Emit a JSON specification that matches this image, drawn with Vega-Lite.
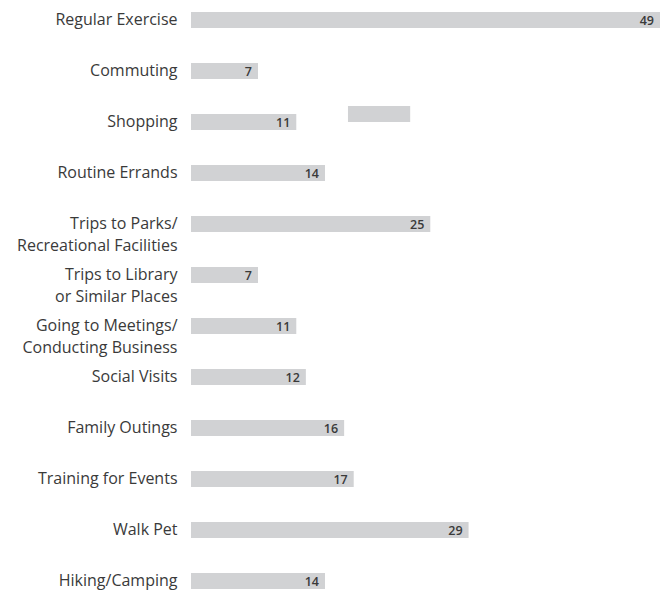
{
  "$schema": "https://vega.github.io/schema/vega-lite/v6.json",
  "autosize": {"type": "none"},
  "width": 469,
  "height": 601,
  "padding": {"left": 191, "top": 0, "right": 4, "bottom": 0},
  "background": "white",
  "config": {"view": {"stroke": null}},
  "datasets": {
    "main": [
      {"activity": "Regular Exercise", "value": 49},
      {"activity": "Commuting", "value": 7},
      {"activity": "Shopping", "value": 11},
      {"activity": "Routine Errands", "value": 14},
      {"activity": "Trips to Parks/|Recreational Facilities", "value": 25},
      {"activity": "Trips to Library|or Similar Places", "value": 7},
      {"activity": "Going to Meetings/|Conducting Business", "value": 11},
      {"activity": "Social Visits", "value": 12},
      {"activity": "Family Outings", "value": 16},
      {"activity": "Training for Events", "value": 17},
      {"activity": "Walk Pet", "value": 29},
      {"activity": "Hiking/Camping", "value": 14}
    ],
    "extra": [
      {"activity": "Shopping", "start": 16.4, "end": 22.9}
    ]
  },
  "layer": [
    {
      "data": {"name": "main"},
      "mark": {"type": "bar", "color": "#d1d2d4"},
      "encoding": {
        "y": {
          "field": "activity", "type": "nominal", "sort": null,
          "scale": {"paddingInner": 0.686, "paddingOuter": 0.235},
          "axis": {
            "title": null, "domain": false, "ticks": false,
            "labelPadding": 14, "labelFont": "Open Sans", "labelFontSize": 16,
            "labelFontWeight": 500,
            "labelColor": "#3a3a3a", "labelLineHeight": 22, "labelLimit": 220,
            "labelExpr": "split(datum.label, '|')"
          }
        },
        "x": {
          "field": "value", "type": "quantitative",
          "scale": {"domain": [0, 49], "nice": false},
          "axis": null
        }
      }
    },
    {
      "data": {"name": "extra"},
      "mark": {"type": "bar", "color": "#d1d2d4", "yOffset": -8},
      "encoding": {
        "y": {"field": "activity", "type": "nominal", "sort": null},
        "x": {"field": "start", "type": "quantitative"},
        "x2": {"field": "end"}
      }
    },
    {
      "data": {"name": "main"},
      "mark": {"type": "text", "align": "right", "dx": -6, "dy": 1, "font": "Open Sans", "fontSize": 12.5, "fontWeight": 600, "color": "#3a3a3a"},
      "encoding": {
        "y": {"field": "activity", "type": "nominal", "sort": null},
        "x": {"field": "value", "type": "quantitative"},
        "text": {"field": "value", "type": "quantitative"}
      }
    }
  ]
}
